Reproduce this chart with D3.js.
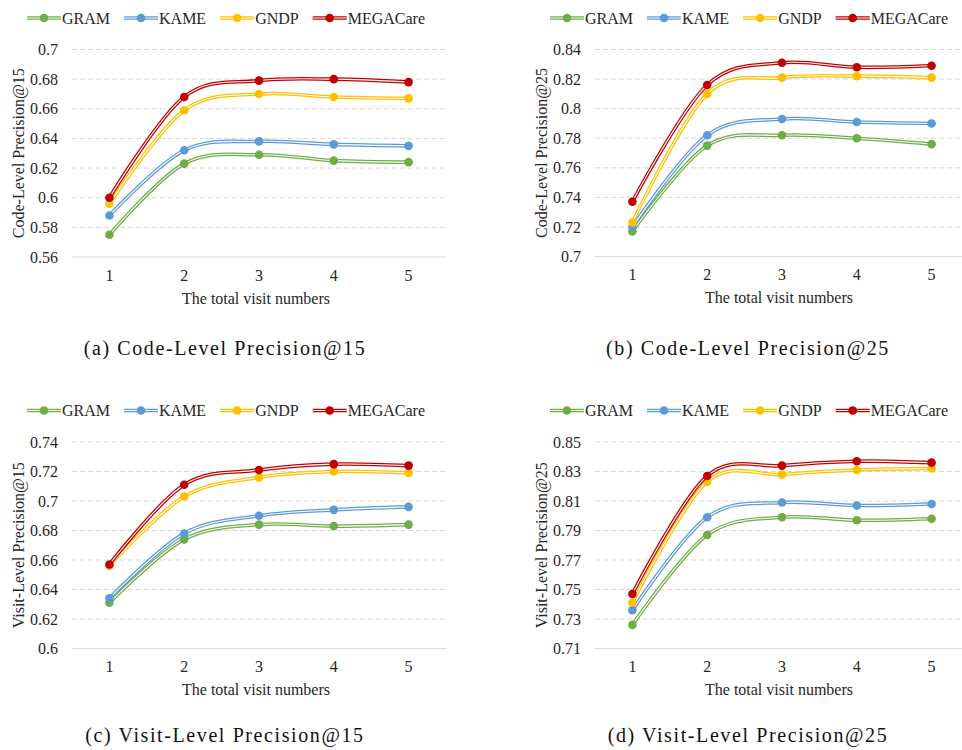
<!DOCTYPE html>
<html>
<head>
<meta charset="utf-8">
<script src="https://d3js.org/d3.v7.min.js"></script>
<style>
  body { margin: 0; background: #fff; }
  svg { font-family: "Liberation Serif", "Times New Roman", serif; }
  .tick-label, .legend-text, .axis-title { font-size: 16px; fill: #262626; }
  .caption { font-size: 20px; fill: #111; letter-spacing: 1.6px; }
</style>
</head>
<body>
<div id="chart"></div>
<script>
// categories and series
var visits = [1, 2, 3, 4, 5];
var methods = ["GRAM", "KAME", "GNDP", "MEGACare"];
var colors = ["#70AD47", "#5B9BD5", "#FFC000", "#C00000"];

// values per method, order: GRAM, KAME, GNDP, MEGACare
var codeP15 = [
  [0.575, 0.623, 0.629, 0.625, 0.624],
  [0.588, 0.632, 0.638, 0.636, 0.635],
  [0.596, 0.659, 0.670, 0.668, 0.667],
  [0.600, 0.668, 0.679, 0.680, 0.678]
];
var codeP25 = [
  [0.717, 0.775, 0.782, 0.780, 0.776],
  [0.720, 0.782, 0.793, 0.791, 0.790],
  [0.723, 0.810, 0.821, 0.822, 0.821],
  [0.737, 0.816, 0.831, 0.828, 0.829]
];
var visitP15 = [
  [0.631, 0.674, 0.684, 0.683, 0.684],
  [0.634, 0.678, 0.690, 0.694, 0.696],
  [0.656, 0.703, 0.716, 0.720, 0.719],
  [0.657, 0.711, 0.721, 0.725, 0.724]
];
var visitP25 = [
  [0.726, 0.787, 0.799, 0.797, 0.798],
  [0.736, 0.799, 0.809, 0.807, 0.808],
  [0.741, 0.823, 0.828, 0.831, 0.832],
  [0.747, 0.827, 0.834, 0.837, 0.836]
];

// y tick values
var ticksA = [0.56, 0.58, 0.6, 0.62, 0.64, 0.66, 0.68, 0.7];
var ticksB = [0.7, 0.72, 0.74, 0.76, 0.78, 0.8, 0.82, 0.84];
var ticksC = [0.6, 0.62, 0.64, 0.66, 0.68, 0.7, 0.72, 0.74];
var ticksD = [0.71, 0.73, 0.75, 0.77, 0.79, 0.81, 0.83, 0.85];

var yTitles = ["Code-Level Precision@15", "Code-Level Precision@25",
               "Visit-Level Precision@15", "Visit-Level Precision@25"];
var captions = ["(a) Code-Level Precision@15", "(b) Code-Level Precision@25",
                "(c) Visit-Level Precision@15", "(d) Visit-Level Precision@25"];
var xTitle = "The total visit numbers";

var width = 962, height = 750;

var svg = d3.select("#chart").append("svg")
  .attr("width", width)
  .attr("height", height);

var panels = [
  {data: codeP15, ticks: ticksA, left: 72,  top: 49.5, bottom: 257,   capY: 348},
  {data: codeP25, ticks: ticksB, left: 595, top: 49.5, bottom: 256.5, capY: 348},
  {data: visitP15, ticks: ticksC, left: 72,  top: 442, bottom: 648.5, capY: 735},
  {data: visitP25, ticks: ticksD, left: 595, top: 442, bottom: 648.5, capY: 735}
];
var plotW = 374;

var curve = d3.curveCatmullRom.alpha(0);

function doubleLine(g, d, color) {
  g.append("path").attr("d", d)
    .attr("fill", "none").attr("stroke", color).attr("stroke-width", 3.6);
  g.append("path").attr("d", d)
    .attr("fill", "none").attr("stroke", "#fff").attr("stroke-width", 1.1);
}

panels.forEach(function(p, pi) {
  var g = svg.append("g");

  var x = d3.scalePoint().domain(visits)
    .range([p.left, p.left + plotW]).padding(0.5);
  var y = d3.scaleLinear()
    .domain(d3.extent(p.ticks))
    .range([p.bottom, p.top]);

  // gridlines
  g.selectAll(".grid").data(p.ticks).enter().append("line")
    .attr("x1", p.left).attr("x2", p.left + plotW)
    .attr("y1", d => y(d)).attr("y2", d => y(d))
    .attr("stroke", "#D9D9D9").attr("stroke-width", 1)
    .attr("stroke-dasharray", (d, i) => i === 0 ? null : "5,3");

  // y tick labels
  g.selectAll(".ytick").data(p.ticks).enter().append("text")
    .attr("class", "tick-label")
    .attr("x", p.left - 14).attr("y", d => y(d))
    .attr("dy", "0.35em").attr("text-anchor", "end")
    .text(d => String(+d.toFixed(2)));

  // x tick labels
  g.selectAll(".xtick").data(visits).enter().append("text")
    .attr("class", "tick-label")
    .attr("x", d => x(d)).attr("y", p.bottom + 18)
    .attr("dy", "0.35em").attr("text-anchor", "middle")
    .text(d => d);

  // axis titles
  g.append("text").attr("class", "axis-title")
    .attr("x", p.left + plotW / 2 - 3).attr("y", p.bottom + 41)
    .attr("dy", "0.35em").attr("text-anchor", "middle")
    .text(xTitle);

  g.append("text").attr("class", "axis-title")
    .attr("transform", `translate(${p.left - 54}, ${(p.top + p.bottom) / 2}) rotate(-90)`)
    .attr("dy", "0.35em").attr("text-anchor", "middle")
    .text(yTitles[pi]);

  // series
  var line = d3.line()
    .x((d, i) => x(visits[i]))
    .y(d => y(d))
    .curve(curve);

  p.data.forEach(function(vals, si) {
    var sg = g.append("g");
    doubleLine(sg, line(vals), colors[si]);
    sg.selectAll("circle").data(vals).enter().append("circle")
      .attr("cx", (d, i) => x(visits[i]))
      .attr("cy", d => y(d))
      .attr("r", 4.3)
      .attr("fill", colors[si]);
  });

  // legend
  var lx = p.left - 45, ly = p.top - 31.5;
  methods.forEach(function(m, mi) {
    var lg = g.append("g");
    doubleLine(lg, `M${lx},${ly}H${lx + 34}`, colors[mi]);
    lg.append("circle").attr("cx", lx + 17).attr("cy", ly)
      .attr("r", 4.3).attr("fill", colors[mi]);
    var t = lg.append("text").attr("class", "legend-text")
      .attr("x", lx + 35).attr("y", ly).attr("dy", "0.35em")
      .text(m);
    lx += 35 + t.node().getComputedTextLength() + 14;
  });

  // caption
  g.append("text").attr("class", "caption")
    .attr("x", p.left + 153).attr("y", p.capY)
    .attr("dy", "0.35em").attr("text-anchor", "middle")
    .text(captions[pi]);
});
</script>
</body>
</html>
